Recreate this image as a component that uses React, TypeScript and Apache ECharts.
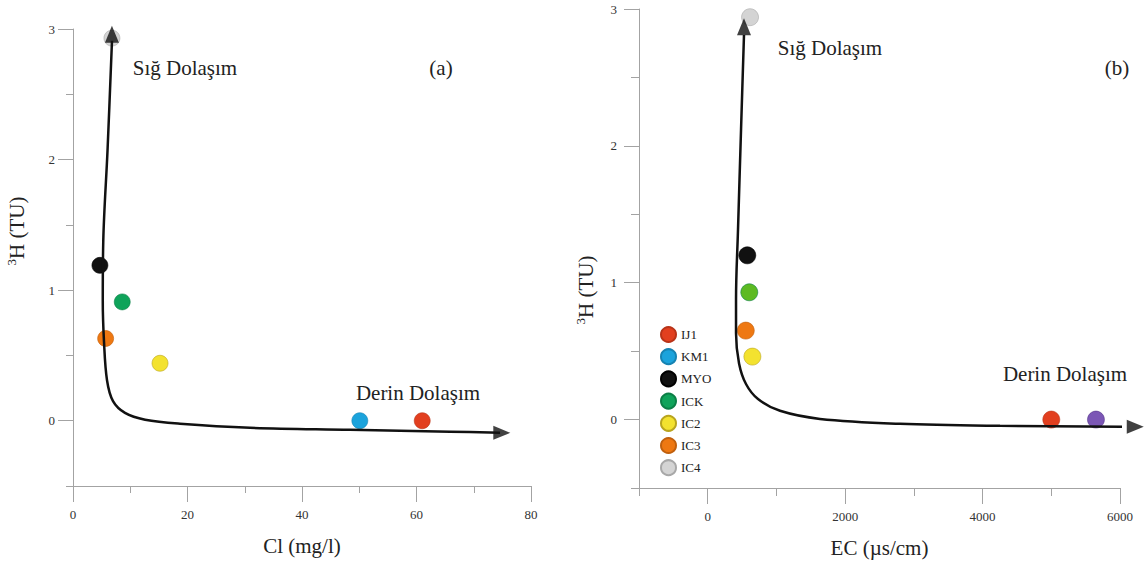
import React, { useEffect, useRef } from "react";
import * as echarts from "echarts";

// ---- data ----
const samples = ["IJ1", "KM1", "MYO", "ICK", "IC2", "IC3", "IC4"];
const colorsA = ["#e23f1f", "#1ba3dc", "#111111", "#0fa35a", "#f3e22f", "#ee7812", "#d4d4d4"];
const colorsB = ["#e23f1f", "#1ba3dc", "#111111", "#5dba22", "#f3e22f", "#ee7812", "#d4d4d4"];
const borderColors = ["#b83318", "#1683b2", "#000000", "#0b7f46", "#b9a51e", "#c0600e", "#a8a8a8"];

// panel (a): Cl (mg/l) vs 3H (TU)
const clValues = [61.0, 50.1, 4.7, 8.6, 15.2, 5.7, 6.8];
const tritiumA = [0, 0, 1.19, 0.91, 0.44, 0.63, 2.93];
// panel (b): EC (µs/cm) vs 3H (TU)
const ecValues = [5000, null, 576, 605, 650, 554, 616];
const tritiumB = [0, null, 1.2, 0.93, 0.46, 0.65, 2.94];
const ecExtra = [5650];
const tritiumExtra = [0];
const extraColor = "#5a2ca3";

// trend curves
const curveA = [
  [6.81, 2.91], [6.03, 2.07], [5.29, 1.38], [5.2, 0.92], [5.41, 0.61], [5.94, 0.31],
  [6.99, 0.15], [9.08, 0.06], [12.6, 0.008], [18.7, -0.023], [30.9, -0.054],
  [48.4, -0.069], [65.9, -0.084], [74.6, -0.092],
];
const arrowUpA = [[6.8, 2.96]];
const arrowRightA = [[74.9, -0.093]];
const curveB = [
  [528, 2.81], [485, 2.12], [441, 1.39], [412, 0.88], [412, 0.63], [456, 0.41],
  [557, 0.26], [732, 0.15], [1052, 0.064], [1634, 0.005], [2798, -0.031],
  [4254, -0.046], [6146, -0.053],
];
const arrowUpB = [[528, 2.87]];
const arrowRightB = [[6222, -0.053]];

// ticks
const yMajor = [0, 1, 2, 3];
const yMinor = [-0.5, 0.5, 1.5, 2.5];
const xMajorA = [0, 20, 40, 60, 80];
const xMinorA = [10, 30, 50, 70];
const xMajorB = [0, 2000, 4000, 6000];
const xMinorB = [-1000, 1000, 3000, 5000];

const FONT = "'Liberation Serif', 'DejaVu Serif', serif";
const AXIS_COLOR = "#a3a3a3";
const plain = (v: number) => String(v);

export default function App() {
  const ref = useRef<HTMLDivElement>(null);
  useEffect(() => {
    if (!ref.current) return;
    const chart = echarts.init(ref.current, null, { renderer: "svg" });

    const baseAxis = (extra: any) => ({
      type: "value",
      axisLine: { show: true, onZero: false, lineStyle: { color: AXIS_COLOR, width: 1 } },
      splitLine: { show: false },
      ...extra,
    });
    const labelStyle = { color: "#333", fontFamily: FONT, fontSize: 13, formatter: plain };

    const xAxis: any[] = [
      baseAxis({
        gridIndex: 0, min: 0, max: 80, position: "bottom",
        axisTick: { show: true, customValues: xMinorA, length: 7, lineStyle: { color: AXIS_COLOR } },
        axisLabel: { customValues: xMajorA, margin: 22, ...labelStyle },
        name: "Cl (mg/l)", nameLocation: "middle", nameGap: 49,
        nameTextStyle: { fontFamily: FONT, fontSize: 21, color: "#222" },
      }),
      baseAxis({
        gridIndex: 0, min: 0, max: 80, position: "bottom",
        axisLine: { show: false, onZero: false },
        axisTick: { show: true, customValues: xMajorA, length: 16, lineStyle: { color: AXIS_COLOR } },
        axisLabel: { show: false },
      }),
      baseAxis({
        gridIndex: 1, min: -1000, max: 6000, position: "bottom",
        axisTick: { show: true, customValues: xMinorB, length: 8, lineStyle: { color: AXIS_COLOR } },
        axisLabel: { customValues: xMajorB, margin: 22, ...labelStyle },
        name: "EC (µs/cm)", nameLocation: "middle", nameGap: 49,
        nameTextStyle: { fontFamily: FONT, fontSize: 21, color: "#222" },
      }),
      baseAxis({
        gridIndex: 1, min: -1000, max: 6000, position: "bottom",
        axisLine: { show: false, onZero: false },
        axisTick: { show: true, customValues: xMajorB, length: 16, lineStyle: { color: AXIS_COLOR } },
        axisLabel: { show: false },
      }),
    ];

    const yAxis: any[] = [
      baseAxis({
        gridIndex: 0, min: -0.5, max: 3, position: "left",
        axisTick: { show: true, customValues: yMinor, length: 7, lineStyle: { color: AXIS_COLOR } },
        axisLabel: { customValues: yMajor, margin: 18, ...labelStyle },
      }),
      baseAxis({
        gridIndex: 0, min: -0.5, max: 3, position: "left",
        axisLine: { show: false, onZero: false },
        axisTick: { show: true, customValues: yMajor, length: 15, lineStyle: { color: AXIS_COLOR } },
        axisLabel: { show: false },
      }),
      baseAxis({
        gridIndex: 1, min: -0.5, max: 3, position: "left",
        axisTick: { show: true, customValues: yMinor, length: 8, lineStyle: { color: AXIS_COLOR } },
        axisLabel: { customValues: yMajor, margin: 22, ...labelStyle },
      }),
      baseAxis({
        gridIndex: 1, min: -0.5, max: 3, position: "left",
        axisLine: { show: false, onZero: false },
        axisTick: { show: true, customValues: yMajor, length: 15, lineStyle: { color: AXIS_COLOR } },
        axisLabel: { show: false },
      }),
    ];

    const series: any[] = [];
    samples.forEach((name, i) => {
      series.push({
        name, type: "scatter", xAxisIndex: 0, yAxisIndex: 0,
        data: [[clValues[i], tritiumA[i]]],
        symbol: "circle", symbolSize: 16, z: 3,
        itemStyle: { color: colorsA[i], borderColor: borderColors[i], borderWidth: 0.6, opacity: 1 },
      });
    });
    samples.forEach((name, i) => {
      if (ecValues[i] == null) return;
      series.push({
        name, type: "scatter", xAxisIndex: 2, yAxisIndex: 2,
        data: [[ecValues[i], tritiumB[i]]],
        symbol: "circle", symbolSize: 17, z: 3,
        itemStyle: { color: colorsB[i], borderColor: borderColors[i], borderWidth: 0.6, opacity: 1 },
      });
    });
    series.push({
      name: "extra", type: "scatter", xAxisIndex: 2, yAxisIndex: 2,
      data: ecExtra.map((v, i) => [v, tritiumExtra[i]]),
      symbol: "circle", symbolSize: 17, z: 3,
      itemStyle: { color: extraColor, borderColor: "#3d1c75", borderWidth: 0.6 },
    });

    const curve = (data: number[][], xi: number, yi: number) => ({
      type: "line", xAxisIndex: xi, yAxisIndex: yi, data, smooth: 0.35,
      showSymbol: false, symbol: "none", clip: false, z: 5, silent: true,
      lineStyle: { color: "#111", width: 2.5 },
    });
    const arrow = (data: number[][], xi: number, yi: number, rot: number) => ({
      type: "scatter", xAxisIndex: xi, yAxisIndex: yi, data, symbol: "triangle",
      symbolSize: [14, 17], symbolRotate: rot, clip: false, z: 6, silent: true,
      itemStyle: { color: "#111" },
    });
    series.push(curve(curveA, 0, 0));
    series.push(arrow(arrowUpA, 0, 0, 0));
    series.push(arrow(arrowRightA, 0, 0, -90));
    series.push(curve(curveB, 2, 2));
    series.push(arrow(arrowUpB, 2, 2, 0));
    series.push(arrow(arrowRightB, 2, 2, -90));

    const txt = (text: string, x: number, y: number, size: number, extra: any = {}) => ({
      type: "text", x, y,
      style: { text, fontFamily: FONT, fontSize: size, fill: "#222", align: "center", verticalAlign: "middle" },
      ...extra,
    });
    const yName = (x: number, y: number) => ({
      type: "text", x, y, rotation: Math.PI / 2,
      style: {
        text: "{s|3}{m|H (TU)}",
        align: "center", verticalAlign: "middle", fill: "#222",
        rich: {
          s: { fontFamily: FONT, fontSize: 13, fill: "#222", verticalAlign: "top", lineHeight: 24 },
          m: { fontFamily: FONT, fontSize: 21, fill: "#222", lineHeight: 24 },
        },
      },
    });

    chart.setOption({
      animation: false,
      backgroundColor: "#ffffff",
      grid: [
        { left: 73, top: 29, width: 458, height: 457 },
        { left: 639, top: 9, width: 481, height: 479 },
      ],
      xAxis,
      yAxis,
      legend: {
        data: samples,
        orient: "vertical",
        left: 655, top: 321,
        itemWidth: 15, itemHeight: 15, itemGap: 5.2,
        icon: "circle",
        selectedMode: false,
        textStyle: { fontFamily: FONT, fontSize: 13, color: "#222", lineHeight: 17 },
      },
      series,
      graphic: [
        txt("Sığ Dolaşım", 185, 68, 21),
        txt("(a)", 441, 68, 21),
        txt("Derin Dolaşım", 418, 393, 21),
        txt("Sığ Dolaşım", 830, 48, 21),
        txt("(b)", 1117, 68, 21),
        txt("Derin Dolaşım", 1065, 374, 21),
        yName(17, 231),
        yName(586, 290),
      ],
    });
    return () => chart.dispose();
  }, []);
  return (
    <div
      ref={ref}
      style={{ position: "absolute", left: 0, top: 0, width: 1146, height: 565, background: "#fff" }}
    />
  );
}
